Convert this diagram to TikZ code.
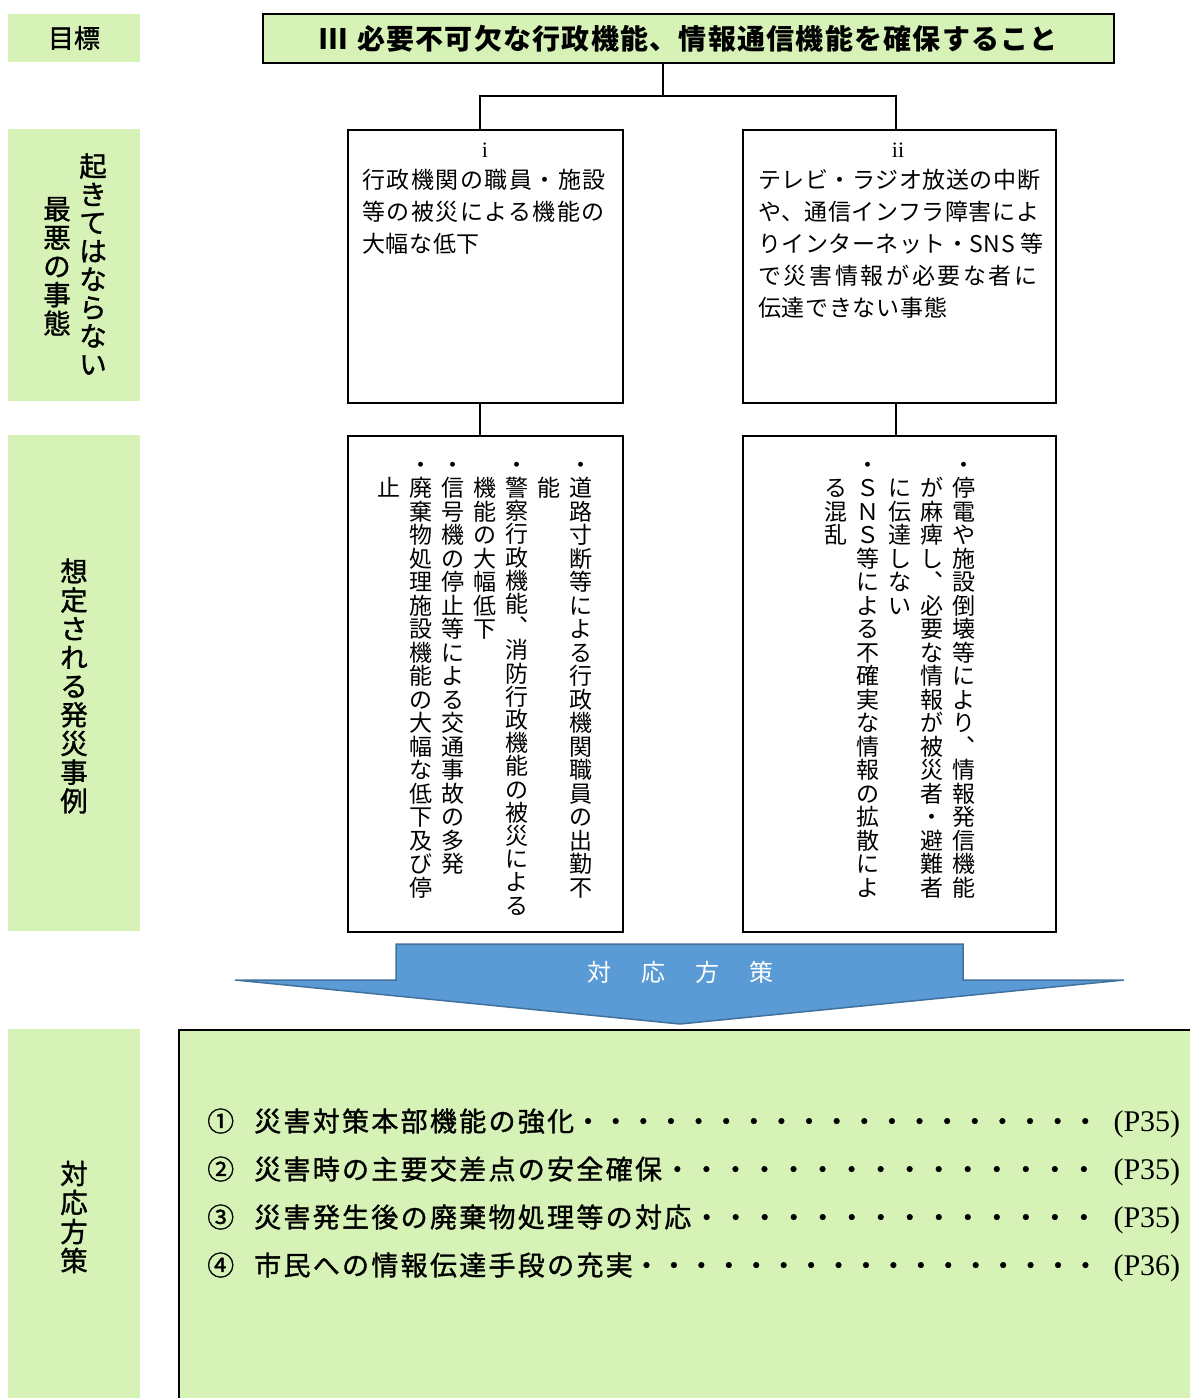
\documentclass[tikz,border=0pt]{standalone}
\usepackage{fontspec}
\setmainfont{Liberation Serif}
\newfontfamily\jp{Noto Sans CJK JP}
\newfontfamily\jpb{Noto Sans CJK JP}[FakeBold=1.2]
\definecolor{lgreen}{RGB}{214,242,182}
\definecolor{ablue}{RGB}{91,155,213}
\definecolor{abord}{RGB}{65,113,156}
\newdimen\vP \newdimen\vH \newdimen\vD
\def\vsetup#1#2{\fontsize{#1}{#1}\selectfont\vP=#2pt\relax
  \vH=\dimexpr #2pt/2+#1pt*38/100\relax\vD=\dimexpr\vP-\vH\relax}
\def\vbl{}
\def\vcell#1{\hbox to\vP{\hss\vrule height\vH depth\vD width0pt\relax#1\hss}}
\def\vcolA#1{\ifx#1\relax\else\vcell{#1}\expandafter\vcolA\fi}
\def\vcol#1{\vbox{\offinterlineskip\vcolA#1\relax}}
\newcommand\respitem[3]{\hbox to 973pt{\fontsize{27}{27}\selectfont #1\hskip20pt{\addfontfeature{LetterSpace=8.5}#2}\xleaders\hbox to 27.33pt{\hss・\hss}\hfill\hskip14.3pt{\rmfamily\fontsize{30}{30}\selectfont #3}}}
\begin{document}
\begin{tikzpicture}[x=1pt,y=-1pt,
  labbox/.style={fill=lgreen, inner sep=0},
  frame/.style={draw, line width=1.8pt, inner sep=0},
  conn/.style={line width=1.6pt},
  txt/.style={inner sep=0, font=\jp},
  btxt/.style={inner sep=0, font=\jpb},
]
\useasboundingbox (0,0) rectangle (1190,1398);
% left labels
\node[labbox, minimum width=132, minimum height=48, font=\jpb\fontsize{26}{26}\selectfont] (labgoal) at (74,38) {目標};
\node[labbox, minimum width=132, minimum height=272] (labworst) at (74,265) {};
\node[btxt] (worstA) at (93,265) {\vsetup{27.5}{28.3}\vcol{起きてはならない}};
\node[btxt] (worstB) at (57,266) {\vsetup{27.5}{28.6}\vcol{最悪の事態}};
\node[labbox, minimum width=132, minimum height=496] (labcase) at (74,683) {};
\node[btxt] (caseT) at (74,686) {\vsetup{27.5}{28.7}\vcol{想定される発災事例}};
\node[labbox, minimum width=132, minimum height=369] (labresp) at (74,1213.5) {};
\node[btxt] (respT) at (74,1217) {\vsetup{27.5}{29}\vcol{対応方策}};
% title
\node[frame, fill=lgreen, minimum width=851, minimum height=49, font=\jp\bfseries\fontsize{28}{28}\selectfont] (goal) at (688.5,38.5) {\addfontfeature{LetterSpace=4.5}Ⅲ\hspace{10pt}必要不可欠な行政機能、情報通信機能を確保すること};
% boxes
\node[frame, minimum width=275, minimum height=273] (wA) at (485.5,266.5) {};
\node[frame, minimum width=313, minimum height=273] (wB) at (899.5,266.5) {};
\node[frame, minimum width=275, minimum height=496] (cA) at (485.5,684) {};
\node[frame, minimum width=313, minimum height=496] (cB) at (899.5,684) {};
% connectors
\coordinate (jT) at (663,96);
\coordinate (jA) at (480,96);
\coordinate (jB) at (896,96);
\draw[conn] (goal.south -| jT) -- (jT);
\draw[conn] (wA.north -| jA) -- (jA) -- (jB) -- (wB.north -| jB);
\draw[conn] (wA.south -| jA) -- (cA.north -| jA);
\draw[conn] (wB.south -| jB) -- (cB.north -| jB);
% worst-case texts
\node[txt, anchor=base] (wAn) at (485,157) {\rmfamily\fontsize{22}{22}\selectfont i};
\node[txt, anchor=base west] (wA1) at (362,188.7) {\fontsize{23}{23}\selectfont\addfontfeature{LetterSpace=6.5}行政機関の職員・施設};
\node[txt, anchor=base west] (wA2) at (362,220.7) {\fontsize{23}{23}\selectfont\addfontfeature{LetterSpace=6.5}等の被災による機能の};
\node[txt, anchor=base west] (wA3) at (362,252.7) {\fontsize{23}{23}\selectfont\addfontfeature{LetterSpace=3}大幅な低下};
\node[txt, anchor=base] (wBn) at (898,157) {\rmfamily\fontsize{22}{22}\selectfont ii};
\node[txt, anchor=base west] (wB1) at (758,188.7) {\fontsize{23}{23}\selectfont\addfontfeature{LetterSpace=2.5}テレビ・ラジオ放送の中断};
\node[txt, anchor=base west] (wB2) at (758,220.7) {\fontsize{23}{23}\selectfont\addfontfeature{LetterSpace=2.5}や、通信インフラ障害によ};
\node[txt, anchor=base west] (wB3) at (758,252.7) {\fontsize{23}{23}\selectfont\addfontfeature{LetterSpace=2.2}りインターネット・SNS 等};
\node[txt, anchor=base west] (wB4) at (758,284.7) {\fontsize{23}{23}\selectfont\addfontfeature{LetterSpace=11.5}で災害情報が必要な者に};
\node[txt, anchor=base west] (wB5) at (758,316.7) {\fontsize{23}{23}\selectfont\addfontfeature{LetterSpace=3}伝達できない事態};
% case columns
\node[txt, anchor=north] (cA1) at (581,452.75) {\vsetup{23}{23.5}\vcol{・道路寸断等による行政機関職員の出勤不}};
\node[txt, anchor=north] (cA2) at (549,452.75) {\vsetup{23}{23.5}\vcol{\vbl 能}};
\node[txt, anchor=north] (cA3) at (517,452.75) {\vsetup{23}{23.2}\vcol{・警察行政機能︑消防行政機能の被災による}};
\node[txt, anchor=north] (cA4) at (485,452.75) {\vsetup{23}{23.5}\vcol{\vbl 機能の大幅低下}};
\node[txt, anchor=north] (cA5) at (453,452.75) {\vsetup{23}{23.5}\vcol{・信号機の停止等による交通事故の多発}};
\node[txt, anchor=north] (cA6) at (421,452.75) {\vsetup{23}{23.5}\vcol{・廃棄物処理施設機能の大幅な低下及び停}};
\node[txt, anchor=north] (cA7) at (388.5,452.75) {\vsetup{23}{23.5}\vcol{\vbl 止}};
\node[txt, anchor=north] (cB1) at (964,452.75) {\vsetup{23}{23.5}\vcol{・停電や施設倒壊等により︑情報発信機能}};
\node[txt, anchor=north] (cB2) at (932,452.75) {\vsetup{23}{23.5}\vcol{\vbl が麻痺し︑必要な情報が被災者・避難者}};
\node[txt, anchor=north] (cB3) at (900,452.75) {\vsetup{23}{23.5}\vcol{\vbl に伝達しない}};
\node[txt, anchor=north] (cB4) at (868,452.75) {\vsetup{23}{23.5}\vcol{・ＳＮＳ等による不確実な情報の拡散によ}};
\node[txt, anchor=north] (cB5) at (835.5,452.75) {\vsetup{23}{23.5}\vcol{\vbl る混乱}};
% arrow
\filldraw[fill=ablue, draw=abord, line width=1.5pt, line join=miter] (396,944) -- (963,944) -- (963,980) -- (1124,980) -- (680,1024) -- (235,980) -- (396,980) -- cycle;
\node[txt, text=white, font=\jp\fontsize{24}{24}\selectfont] (arrowT) at (680,972) {対\hspace{30pt}応\hspace{30pt}方\hspace{30pt}策};
% response box
\node[frame, fill=lgreen, anchor=north west, minimum width=1040, minimum height=400] (respbox) at (178,1029) {};
\node[btxt, anchor=base west] (r1) at (207,1131.3) {\respitem{①}{災害対策本部機能の強化}{(P35)}};
\node[btxt, anchor=base west] (r2) at (207,1179.3) {\respitem{②}{災害時の主要交差点の安全確保}{(P35)}};
\node[btxt, anchor=base west] (r3) at (207,1227.3) {\respitem{③}{災害発生後の廃棄物処理等の対応}{(P35)}};
\node[btxt, anchor=base west] (r4) at (207,1275.3) {\respitem{④}{市民への情報伝達手段の充実}{(P36)}};
\end{tikzpicture}
\end{document}
